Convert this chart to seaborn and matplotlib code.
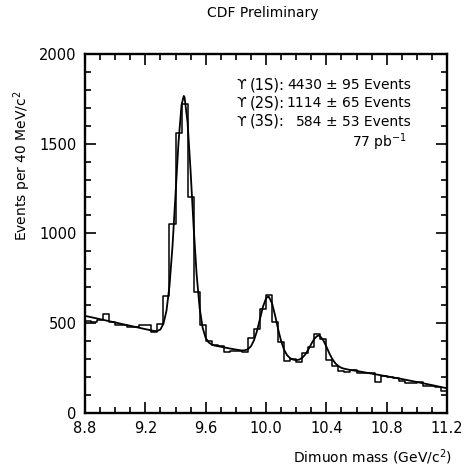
import numpy as np
import pandas as pd
import matplotlib
matplotlib.use("Agg")
import matplotlib.pyplot as plt
import seaborn as sns
from matplotlib.ticker import MultipleLocator, FixedLocator

# Dimuon mass spectrum, 40 MeV bins from 8.8 to 11.2 GeV/c^2
mass_lo = 8.8
mass_hi = 11.2
bin_width = 0.04

counts = [510, 505, 518, 548, 503, 490, 490, 477, 477, 490,
          488, 452, 492, 652, 1054, 1561, 1723, 1203, 673, 490,
          397, 378, 372, 341, 346, 346, 341, 416, 465, 578,
          658, 508, 395, 288, 298, 280, 335, 367, 437, 410,
          296, 260, 234, 228, 238, 220, 220, 223, 170, 205,
          201, 192, 179, 168, 168, 171, 149, 149, 145, 123]

# Fitted curve (three Upsilon peaks over a falling background)
fit_mass = [8.80, 9.00, 9.20, 9.26, 9.28, 9.30, 9.32, 9.34, 9.36, 9.38,
            9.40, 9.42, 9.44, 9.455, 9.46, 9.48, 9.50, 9.52, 9.54, 9.56,
            9.58, 9.60, 9.62, 9.64, 9.66, 9.70, 9.76, 9.80, 9.84, 9.86,
            9.88, 9.90, 9.92, 9.94, 9.96, 9.98, 10.00, 10.015, 10.02, 10.04,
            10.06, 10.08, 10.10, 10.12, 10.14, 10.16, 10.18, 10.20, 10.22, 10.24,
            10.26, 10.28, 10.30, 10.32, 10.34, 10.35, 10.36, 10.38, 10.40, 10.42,
            10.44, 10.46, 10.48, 10.50, 10.52, 10.56, 10.60, 10.70, 10.80, 10.90,
            11.00, 11.10, 11.20]
fit_events = [540, 503, 466, 455, 456, 464, 496, 568, 706, 927,
              1215, 1508, 1716, 1766, 1759, 1619, 1348, 1039, 771, 584,
              473, 417, 392, 380, 374, 368, 358, 352, 347, 348,
              354, 370, 403, 455, 523, 591, 637, 648, 645, 610,
              543, 467, 400, 351, 320, 304, 296, 293, 296, 306,
              324, 351, 383, 412, 428, 430, 425, 404, 369, 331,
              299, 275, 260, 250, 245, 238, 233, 218, 203, 188,
              171, 154, 136]

x_ticks = [8.8, 9.2, 9.6, 10.0, 10.4, 10.8, 11.2]
x_tick_labels = ["8.8", "9.2", "9.6", "10.0", "10.4", "10.8", "11.2"]
y_ticks = [0, 500, 1000, 1500, 2000]

states = ["(1S):", "(2S):", "(3S):"]
yields = ["4430", "1114", "584"]
errors = ["\u00b1 95 Events", "\u00b1 65 Events", "\u00b1 53 Events"]
lumi = "77 pb$^{-1}$"

sns.set_style("ticks")
plt.rcParams["font.family"] = ["DejaVu Sans"]
for key in ("text.color", "axes.labelcolor", "xtick.color", "ytick.color",
            "axes.edgecolor"):
    plt.rcParams[key] = "black"

edges = [float(e) for e in mass_lo + bin_width * np.arange(len(counts) + 1)]
centers = [e + bin_width / 2 for e in edges[:-1]]
hist_df = pd.DataFrame({"mass": centers, "events": counts})
fit_df = pd.DataFrame({"mass": fit_mass, "events": fit_events})

fig = plt.figure(figsize=(4.66, 4.68), dpi=100)
ax = fig.add_axes([85 / 466, 1 - 412.7 / 468, (447 - 85) / 466, (412.7 - 54) / 468])

sns.histplot(data=hist_df, x="mass", weights="events", bins=edges,
             element="step", fill=False, color="black", linewidth=1.1, ax=ax)
sns.lineplot(data=fit_df, x="mass", y="events", color="black",
             linewidth=1.3, ax=ax)

ax.set_xlim(mass_lo, mass_hi)
ax.set_ylim(0, 2000)
ax.xaxis.set_major_locator(FixedLocator(x_ticks))
ax.set_xticklabels(x_tick_labels)
ax.xaxis.set_minor_locator(MultipleLocator(0.1))
ax.yaxis.set_major_locator(FixedLocator(y_ticks))
ax.yaxis.set_minor_locator(MultipleLocator(100))
ax.tick_params(which="both", direction="in", top=True, right=True,
               width=1.2, color="black", labelcolor="black",
               labelsize=10.5, pad=6)
ax.tick_params(which="major", length=8)
ax.tick_params(which="minor", length=4)
for s in ax.spines.values():
    s.set_linewidth(1.7)
    s.set_color("black")
ax.set_xlabel("")
ax.set_ylabel("")

fig.text(263 / 466, 1 - 13 / 468, "CDF Preliminary", ha="center",
         va="center", fontsize=10)
fig.text(452 / 466, 1 - 457 / 468, "Dimuon mass (GeV/c$^2$)", ha="right",
         va="center", fontsize=10)
fig.text(22 / 466, 1 - 166 / 468, "Events per 40 MeV/c$^2$", ha="center",
         va="center", rotation=90, fontsize=10)

line_y = [85, 103, 121.5]
for yy, st, yl, er in zip(line_y, states, yields, errors):
    fy = 1 - yy / 468
    fig.text(246 / 466, fy, "\u03d2", ha="right", va="center", fontsize=10)
    fig.text(285 / 466, fy, st, ha="right", va="center", fontsize=10.5)
    fig.text(322 / 466, fy, yl, ha="right", va="center", fontsize=10)
    fig.text(326 / 466, fy, er, ha="left", va="center", fontsize=10)
fig.text(352 / 466, 1 - 142 / 468, lumi, ha="left", va="center", fontsize=10)

fig.savefig("out.png", dpi=100, facecolor="white")
